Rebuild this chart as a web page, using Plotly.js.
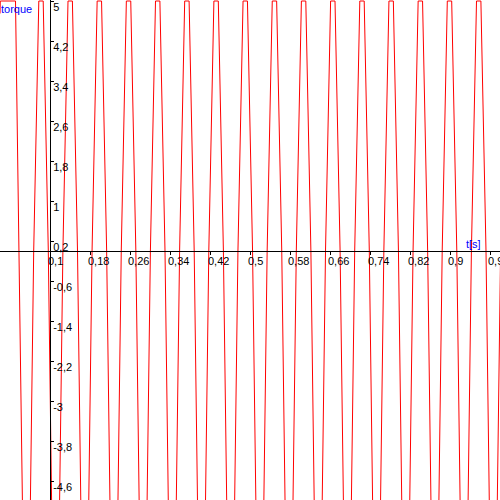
<!DOCTYPE html>
<html>
<head>
<meta charset="utf-8">
<script src="https://cdn.plot.ly/plotly-3.0.1.min.js"></script>
<style>
html,body{margin:0;padding:0;background:#fff;}
#chart{width:500px;height:500px;}
</style>
</head>
<body>
<div id="chart"></div>
<script>
// time values [s] of the polyline vertices
const timeS = [
  0.0000, 0.0006, 0.0310, 0.0382, 0.0448,
  0.0608, 0.0674, 0.0776, 0.0864, 0.0966, 0.1032,
  0.1192, 0.1258, 0.1360, 0.1448, 0.1550, 0.1616,
  0.1775, 0.1841, 0.1943, 0.2031, 0.2133, 0.2199,
  0.2359, 0.2425, 0.2527, 0.2615, 0.2717, 0.2783,
  0.2942, 0.3008, 0.3110, 0.3198, 0.3300, 0.3366,
  0.3526, 0.3592, 0.3694, 0.3782, 0.3884, 0.3950,
  0.4110, 0.4176, 0.4278, 0.4366, 0.4468, 0.4534,
  0.4693, 0.4759, 0.4861, 0.4949, 0.5051, 0.5117,
  0.5277, 0.5343, 0.5445, 0.5533, 0.5635, 0.5701,
  0.5860, 0.5926, 0.6028, 0.6116, 0.6218, 0.6284,
  0.6444, 0.6510, 0.6612, 0.6700, 0.6802, 0.6868,
  0.7028, 0.7094, 0.7196, 0.7284, 0.7386, 0.7452,
  0.7611, 0.7677, 0.7779, 0.7867, 0.7969, 0.8035,
  0.8195, 0.8261, 0.8363, 0.8451, 0.8553, 0.8619,
  0.8778, 0.8844, 0.8946, 0.9034, 0.9136, 0.9202,
  0.9362, 0.9428, 0.9530, 0.9618, 0.9720, 0.9786,
  0.9946, 1.0012, 1.0114
];
// torque values (as seen, clipped at the chart border)
const torque = [
  4.75, 5, 5, 0, -5,
  -5, 0, 5, 5, 0, -5,
  -5, 0, 5, 5, 0, -5,
  -5, 0, 5, 5, 0, -5,
  -5, 0, 5, 5, 0, -5,
  -5, 0, 5, 5, 0, -5,
  -5, 0, 5, 5, 0, -5,
  -5, 0, 5, 5, 0, -5,
  -5, 0, 5, 5, 0, -5,
  -5, 0, 5, 5, 0, -5,
  -5, 0, 5, 5, 0, -5,
  -5, 0, 5, 5, 0, -5,
  -5, 0, 5, 5, 0, -5,
  -5, 0, 5, 5, 0, -5,
  -5, 0, 5, 5, 0, -5,
  -5, 0, 5, 5, 0, -5,
  -5, 0, 5, 5, 0, -5,
  -5, 0, 5
];

const xTickVals = [0.1, 0.18, 0.26, 0.34, 0.42, 0.5, 0.58, 0.66, 0.74, 0.82, 0.9, 0.98];
const xTickText = ["0,1", "0,18", "0,26", "0,34", "0,42", "0,5", "0,58", "0,66", "0,74", "0,82", "0,9", "0,98"];
const yTickVals = [5, 4.2, 3.4, 2.6, 1.8, 1, 0.2, -0.6, -1.4, -2.2, -3, -3.8, -4.6];
const yTickText = ["5", "4,2", "3,4", "2,6", "1,8", "1", "0,2", "-0,6", "-1,4", "-2,2", "-3", "-3,8", "-4,6"];

const xTitle = "t[s]";
const yTitle = "torque";

const xRange = [0, 1];
const yRange = [-4.975, 5.02];
const yAxisAt = 0.1;   // x where the vertical axis crosses
const xAxisAt = 0;     // y where the horizontal axis crosses
const xPos = (xAxisAt - yRange[0]) / (yRange[1] - yRange[0]);
const yPos = (yAxisAt - xRange[0]) / (xRange[1] - xRange[0]);

const FONT = "Liberation Sans, Arial, sans-serif";

const trace = {
  x: timeS, y: torque, type: "scatter", mode: "lines",
  line: {color: "#ff0000", width: 1},
  hoverinfo: "skip", cliponaxis: true
};

const baseAxis = {showgrid: false, zeroline: false, fixedrange: true};

const layout = {
  width: 500, height: 500,
  margin: {l: 0, r: 0, t: 0, b: 0, pad: 0},
  paper_bgcolor: "#ffffff", plot_bgcolor: "#ffffff",
  separators: ", ",
  showlegend: false,
  font: {family: FONT, size: 11, color: "#000000"},
  xaxis: Object.assign({}, baseAxis, {
    range: xRange, anchor: "free", position: xPos, side: "bottom",
    showline: true, linecolor: "#000000", linewidth: 1,
    ticks: "outside", ticklen: 3, tickcolor: "#000000", tickwidth: 1,
    tickmode: "array", tickvals: xTickVals, ticktext: xTickText,
    ticklabelposition: "outside right", ticklabelshift: -3, ticklabeloverflow: "allow",
    tickfont: {family: FONT, size: 11, color: "#000000"}
  }),
  xaxis2: Object.assign({}, baseAxis, {
    range: xRange, overlaying: "x", anchor: "free", position: xPos, side: "top",
    showline: false, ticks: "outside", ticklen: 3, tickcolor: "#000000", tickwidth: 1,
    tickmode: "array", tickvals: xTickVals, showticklabels: false
  }),
  yaxis: Object.assign({}, baseAxis, {
    range: yRange, anchor: "free", position: yPos, side: "right",
    showline: true, linecolor: "#000000", linewidth: 1,
    ticks: "outside", ticklen: 3, tickcolor: "#000000", tickwidth: 1,
    tickmode: "array", tickvals: yTickVals, ticktext: yTickText,
    ticklabelposition: "outside bottom", ticklabelshift: -2, ticklabeloverflow: "allow",
    tickfont: {family: FONT, size: 11, color: "#000000"}
  }),
  yaxis2: Object.assign({}, baseAxis, {
    range: yRange, overlaying: "y", anchor: "free", position: yPos, side: "left",
    showline: false, ticks: "outside", ticklen: 3, tickcolor: "#000000", tickwidth: 1,
    tickmode: "array", tickvals: yTickVals, showticklabels: false
  }),
  annotations: [
    {text: yTitle, xref: "paper", yref: "paper", x: 0, y: 1,
     xanchor: "left", yanchor: "top", showarrow: false, borderpad: 0, yshift: -2,
     font: {family: FONT, size: 11, color: "#0000ff"}},
    {text: xTitle, xref: "x", yref: "y", x: 0.93, y: xAxisAt,
     xanchor: "left", yanchor: "bottom", showarrow: false, borderpad: 0,
     font: {family: FONT, size: 11, color: "#0000ff"}}
  ]
};

Plotly.newPlot("chart", [trace], layout, {displayModeBar: false, staticPlot: true});
</script>
</body>
</html>
